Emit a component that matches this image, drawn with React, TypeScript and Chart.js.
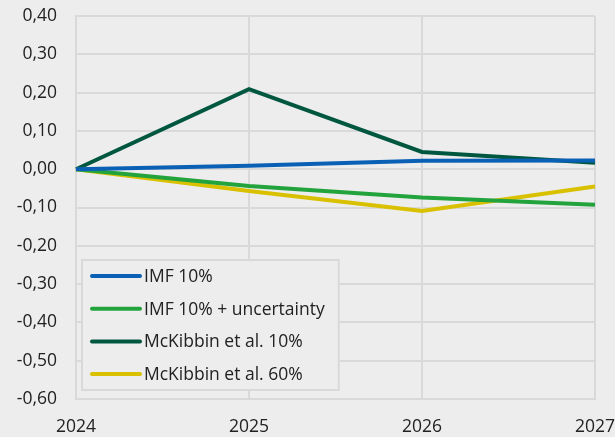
import React, { useEffect, useRef } from "react";
import { Chart, registerables } from "chart.js";

Chart.register(...registerables);

const years = ["2024", "2025", "2026", "2027"];
const imf10 = [0, 0.009, 0.022, 0.023];
const imf10Unc = [0, -0.044, -0.074, -0.093];
const mck10 = [0, 0.209, 0.045, 0.017];
const mck60 = [0, -0.057, -0.109, -0.045];
const seriesNames = ["IMF 10%", "IMF 10% + uncertainty", "McKibbin et al. 10%", "McKibbin et al. 60%"];
const seriesColors = ["#0a60b4", "#23a33c", "#00573f", "#d9c000"];

const BG = "#ededed";
const GRID = "#d9d9d9";
const FONT = "'Open Sans', 'Noto Sans', sans-serif";

const legendPlugin = {
  id: "boxLegend",
  afterDatasetsDraw(chart: any) {
    const { ctx, chartArea } = chart;
    const left = chartArea.left + 6;
    const top = chartArea.bottom - 139;
    const bottom = chartArea.bottom - 9;
    ctx.save();
    ctx.font = `17.5px ${FONT}`;
    let maxW = 0;
    chart.data.datasets.forEach((ds: any) => {
      maxW = Math.max(maxW, ctx.measureText(ds.label).width);
    });
    const lineX0 = left + 10;
    const lineX1 = left + 58;
    const textX = left + 62;
    const right = textX + maxW + 14;
    ctx.fillStyle = BG;
    ctx.fillRect(left, top, right - left, bottom - top);
    ctx.strokeStyle = GRID;
    ctx.lineWidth = 2;
    ctx.strokeRect(left, top, right - left, bottom - top);
    const step = 32.7;
    chart.data.datasets.forEach((ds: any, i: number) => {
      const y = top + 16 + i * step;
      ctx.strokeStyle = ds.borderColor;
      ctx.lineWidth = 4;
      ctx.lineCap = "round";
      ctx.beginPath();
      ctx.moveTo(lineX0, y);
      ctx.lineTo(lineX1, y);
      ctx.stroke();
      ctx.fillStyle = "#222";
      ctx.textBaseline = "middle";
      ctx.textAlign = "left";
      ctx.fillText(ds.label, textX, y + 1);
    });
    ctx.restore();
  },
};

const bgPlugin = {
  id: "bgFill",
  beforeDraw(chart: any) {
    const { ctx, width, height } = chart;
    ctx.save();
    ctx.fillStyle = BG;
    ctx.fillRect(0, 0, width, height);
    ctx.restore();
  },
};

export default function App() {
  const ref = useRef<HTMLCanvasElement | null>(null);
  useEffect(() => {
    document.body.style.margin = "0";
    document.body.style.background = BG;
    const canvas = ref.current!;
    const allSeries = [imf10, imf10Unc, mck10, mck60];
    const chart = new Chart(canvas, {
      type: "line",
      data: {
        labels: years,
        datasets: allSeries.map((d, i) => ({
          label: seriesNames[i],
          data: d,
          borderColor: seriesColors[i],
          backgroundColor: seriesColors[i],
          borderWidth: 4,
          pointRadius: 0,
          tension: 0,
          fill: false,
        })),
      },
      options: {
        animation: false,
        responsive: false,
        devicePixelRatio: 1,
        layout: { padding: { top: 16, left: 0, right: 0, bottom: 0 } },
        plugins: {
          legend: { display: false },
          tooltip: { enabled: false },
          title: { display: false },
        },
        scales: {
          x: {
            type: "category",
            offset: false,
            grid: { color: GRID, lineWidth: 2, drawTicks: false },
            border: { color: GRID, width: 2 },
            ticks: {
              color: "#222",
              font: { family: FONT, size: 17.5 },
              padding: 18,
              maxRotation: 0,
              autoSkip: false,
            },
            afterFit(scale: any) {
              scale.height = 38;
              scale.paddingLeft = 0;
              scale.paddingRight = 20;
            },
          },
          y: {
            min: -0.6,
            max: 0.4,
            grid: { color: GRID, lineWidth: 2, drawTicks: false },
            border: { color: GRID, width: 2 },
            ticks: {
              stepSize: 0.1,
              color: "#222",
              font: { family: FONT, size: 17.5 },
              padding: 19,
              callback: (v: any) => Number(v).toFixed(2).replace(".", ","),
            },
            afterFit(scale: any) {
              scale.width = 76;
              scale.paddingTop = 0;
              scale.paddingBottom = 0;
            },
          },
        },
      },
      plugins: [bgPlugin, legendPlugin],
    });
    return () => chart.destroy();
  }, []);
  return (
    <div style={{ width: 615, height: 437 }}>
      <canvas ref={ref} width={615} height={437} style={{ display: "block" }} />
    </div>
  );
}
